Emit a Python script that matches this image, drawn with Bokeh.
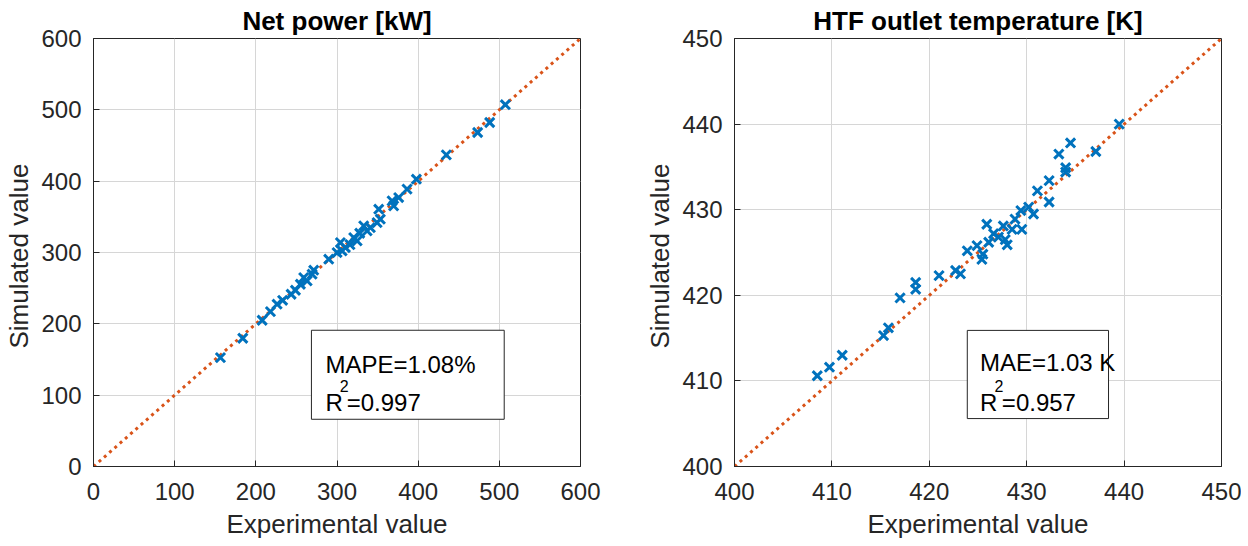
from bokeh.plotting import figure
from bokeh.layouts import row
from bokeh.models import BoxAnnotation, Label, FixedTicker
from bokeh.embed import file_html
from bokeh.resources import INLINE

# ---- Data: Net power [kW] ----
power_exp = [156.4, 183.9, 207.8, 218.0, 226.2, 233.0, 243.5, 248.8, 254.9, 259.0,
             263.2, 269.3, 271.3, 289.8, 300.1, 304.2, 306.3, 310.3, 316.0, 320.6,
             324.8, 328.0, 332.9, 337.1, 341.1, 349.4, 351.4, 353.4, 367.9, 369.8,
             376.0, 386.3, 397.8, 434.7, 473.3, 488.1, 507.4]
power_sim = [152.6, 179.8, 205.0, 217.1, 227.5, 233.0, 241.5, 247.1, 255.5, 264.8,
             260.2, 269.6, 275.2, 290.6, 299.9, 313.9, 302.2, 306.9, 311.0, 320.9,
             316.3, 327.0, 337.3, 330.3, 334.9, 341.9, 360.7, 346.7, 372.4, 365.4,
             377.0, 388.8, 402.8, 436.9, 468.2, 482.2, 507.2]

# ---- Data: HTF outlet temperature [K] ----
htf_exp = [408.5, 409.75, 411.06, 415.3, 415.8, 417.0, 418.6, 418.6, 421.0, 422.7,
           423.2, 423.9, 424.9, 425.4, 425.5, 425.9, 426.1, 426.6, 427.1, 427.6,
           427.8, 428.0, 428.5, 428.8, 429.5, 429.4, 430.2, 430.7, 431.1, 432.3,
           432.3, 434.0, 433.3, 434.5, 434.0, 437.1, 439.5]
htf_sim = [410.6, 411.6, 413.0, 415.3, 416.2, 419.7, 421.5, 420.7, 422.3, 422.9,
           422.5, 425.2, 425.8, 424.2, 424.8, 428.3, 426.2, 427.2, 426.8, 428.1,
           426.5, 425.9, 427.7, 428.9, 427.7, 429.9, 430.3, 429.5, 432.2, 433.4,
           430.9, 434.4, 436.5, 437.8, 434.9, 436.8, 440.0]

power_ticks = [0, 100, 200, 300, 400, 500, 600]
htf_ticks = [400, 410, 420, 430, 440, 450]

FONT = "Liberation Sans"
TXT = "#262626"
BLUE = "#0072BD"
ORANGE = "#D95319"


def style(p, ticks):
    p.title.text_font = FONT
    p.title.text_font_size = "26px"
    p.title.text_font_style = "bold"
    p.title.text_color = "#000000"
    p.title.align = "center"
    p.title.standoff = 5
    p.outline_line_color = TXT
    p.outline_line_width = 1
    p.outline_line_alpha = 1
    for ax in (p.xaxis[0], p.yaxis[0]):
        ax.ticker = FixedTicker(ticks=ticks)
        ax.major_label_text_font = FONT
        ax.major_label_text_font_size = "24px"
        ax.major_label_text_color = TXT
        ax.axis_label_text_font = FONT
        ax.axis_label_text_font_size = "26px"
        ax.axis_label_text_font_style = "normal"
        ax.axis_label_text_color = TXT
        ax.axis_line_color = TXT
        ax.major_tick_in = 6
        ax.major_tick_out = 0
        ax.major_tick_line_color = TXT
        ax.minor_tick_line_color = None
    p.xaxis[0].major_label_standoff = 16
    p.xaxis[0].axis_label_standoff = 6
    p.yaxis[0].major_label_standoff = 12
    p.yaxis[0].axis_label_standoff = 4
    for g in (p.xgrid[0], p.ygrid[0]):
        g.ticker = FixedTicker(ticks=ticks)
        g.grid_line_color = "#d6d6d6"
        g.grid_line_width = 1
    p.background_fill_color = "white"
    p.border_fill_color = "white"


# ---- Left figure ----
p1 = figure(width=620, height=542, x_range=(0, 600), y_range=(0, 600),
            output_backend="svg", toolbar_location=None,
            title="Net power [kW]", x_axis_label="Experimental value",
            y_axis_label="Simulated  value",
            min_border_left=93, min_border_right=40, min_border_top=38, min_border_bottom=76)
style(p1, power_ticks)
p1.line([power_ticks[0], power_ticks[-1]], [power_ticks[0], power_ticks[-1]],
        line_color=ORANGE, line_width=3, line_dash="3 4")
p1.scatter(power_exp, power_sim, marker="x", size=13, line_color=BLUE, line_width=3)
p1.add_layout(BoxAnnotation(left=268.5, right=506, bottom=66.2, top=191,
                            fill_color="white", fill_alpha=1,
                            line_color=TXT, line_alpha=1, line_width=1))
lab_kw = dict(text_font=FONT, text_color="#000000", text_baseline="alphabetic")
p1.add_layout(Label(x=285.7, y=143.3, text="MAPE=1.08%", text_font_size="24px", **lab_kw))
p1.add_layout(Label(x=285.7, y=89.5, text="R", text_font_size="24px", **lab_kw))
p1.add_layout(Label(x=303.4, y=112.9, text="2", text_font_size="16px", **lab_kw))
p1.add_layout(Label(x=312.0, y=89.5, text="=0.997", text_font_size="24px", **lab_kw))

# ---- Right figure ----
p2 = figure(width=621, height=542, x_range=(400, 450), y_range=(400, 450),
            output_backend="svg", toolbar_location=None,
            title="HTF outlet temperature [K]", x_axis_label="Experimental value",
            y_axis_label="Simulated  value",
            min_border_left=114, min_border_right=20, min_border_top=38, min_border_bottom=76)
style(p2, htf_ticks)
p2.line([htf_ticks[0], htf_ticks[-1]], [htf_ticks[0], htf_ticks[-1]],
        line_color=ORANGE, line_width=3, line_dash="3 4")
p2.scatter(htf_exp, htf_sim, marker="x", size=13, line_color=BLUE, line_width=3)
p2.add_layout(BoxAnnotation(left=423.9, right=438.4, bottom=405.6, top=415.9,
                            fill_color="white", fill_alpha=1,
                            line_color=TXT, line_alpha=1, line_width=1))
p2.add_layout(Label(x=425.2, y=412.14, text="MAE=1.03 K", text_font_size="24px", **lab_kw))
p2.add_layout(Label(x=425.2, y=407.46, text="R", text_font_size="24px", **lab_kw))
p2.add_layout(Label(x=426.7, y=409.4, text="2", text_font_size="16px", **lab_kw))
p2.add_layout(Label(x=427.45, y=407.46, text="=0.957", text_font_size="24px", **lab_kw))

layout = row(p1, p2)
open("out.html", "w").write(file_html(layout, INLINE))
